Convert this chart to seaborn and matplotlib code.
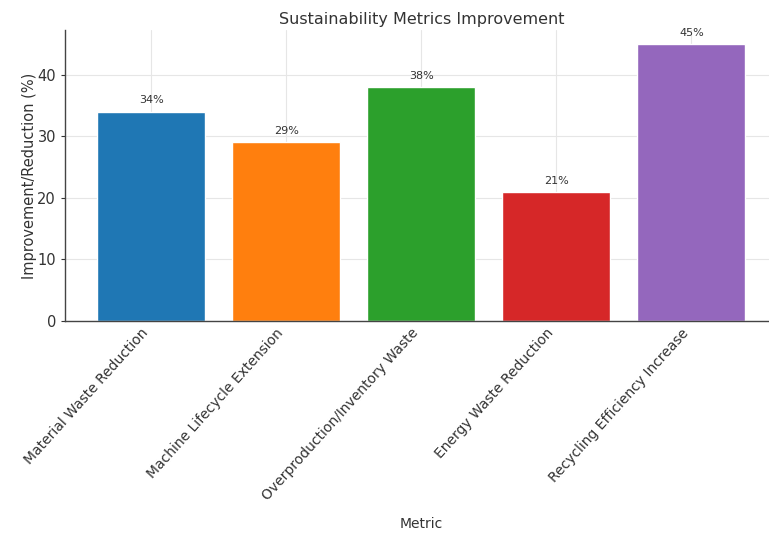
import matplotlib
matplotlib.use("Agg")
import matplotlib.pyplot as plt
import seaborn as sns
import pandas as pd

metrics = ["Material Waste Reduction", "Machine Lifecycle Extension",
           "Overproduction/Inventory Waste", "Energy Waste Reduction",
           "Recycling Efficiency Increase"]
values = [34, 29, 38, 21, 45]
colors = ["#1f77b4", "#ff7f0e", "#2ca02c", "#d62728", "#9467bd"]

sns.set_style("whitegrid")
plt.rcParams["font.family"] = ["DejaVu Sans"]

df = pd.DataFrame({"Metric": metrics, "Value": values})

fig = plt.figure(figsize=(7.69, 5.33), dpi=100)
ax = fig.add_axes([0.0845, 0.3977, 0.927, 0.546])
sns.barplot(data=df, x="Metric", y="Value", hue="Metric", palette=colors,
            legend=False, width=0.8, saturation=1, ax=ax)

for i, v in enumerate(values):
    ax.text(i, v + 1, f"{v}%", ha="center", va="bottom", fontsize=8, color="#333333")

ax.set_xlim(-0.64, 4.64)
ax.set_ylim(0, 47.25)
ax.set_yticks([0, 10, 20, 30, 40])
ax.set_title("Sustainability Metrics Improvement", fontsize=11.5, color="#333333", pad=4)
ax.set_xlabel("Metric", fontsize=10, color="#333333", labelpad=10)
ax.set_ylabel("Improvement/Reduction (%)", fontsize=10.5, color="#333333", labelpad=0)
ax.tick_params(axis="x", labelsize=10, colors="#333333", length=0)
ax.tick_params(axis="y", labelsize=10.5, colors="#333333", length=3, left=True)
plt.setp(ax.get_xticklabels(), rotation=48, ha="right", rotation_mode="default")
ax.grid(True, color="#e6e6e6", linewidth=0.8)
ax.set_axisbelow(True)
for s in ["top", "right"]:
    ax.spines[s].set_visible(False)
for s in ["left", "bottom"]:
    ax.spines[s].set_color("#444444")
    ax.spines[s].set_linewidth(1.0)

fig.savefig("out.png", dpi=100)
